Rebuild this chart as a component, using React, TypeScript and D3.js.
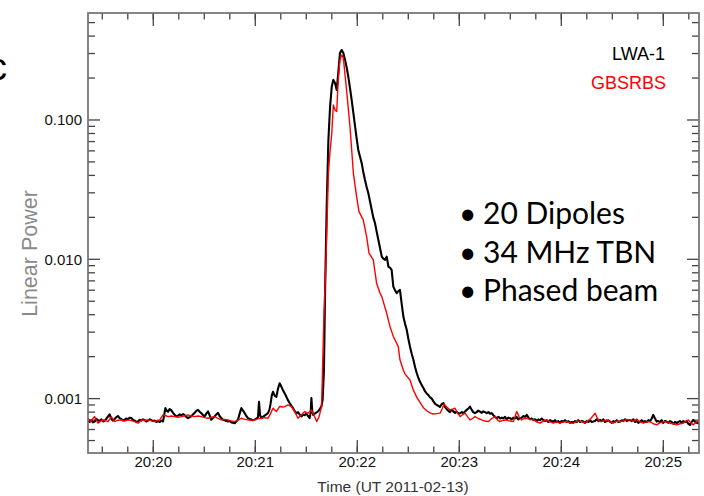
import React from "react";
import * as d3 from "d3";

// Time is seconds after 20:19:00 UT on 2011-02-13; power is linear.
const T0 = Date.UTC(2011, 1, 13, 20, 19, 0);

const lwa1: [number, number][] = [
  [21.6, 0.000703], [22.5, 0.00068], [23.5, 0.0007], [24.5, 0.000675], [25.5, 0.000684], [26.5, 0.000715], [27.5, 0.0007], [28.5, 0.00069], [29.4, 0.00071], [30.5, 0.000685], [31.5, 0.000695], [32.5, 0.00072], [33.4, 0.000745], [34.3, 0.00077], [35.2, 0.00072], [36.2, 0.000695], [37.3, 0.000715], [38.2, 0.000735], [39.2, 0.00075], [40.2, 0.000725], [41.2, 0.000715], [42.2, 0.000695], [43.2, 0.000705], [44.1, 0.00072], [45.1, 0.00071], [46.1, 0.00073], [47.1, 0.000725], [48.0, 0.000705], [49.0, 0.000695], [50.0, 0.00068], [51.0, 0.000685], [52.0, 0.000705], [52.9, 0.000695], [53.9, 0.00071], [54.9, 0.0007], [55.9, 0.000685], [56.9, 0.000695], [57.9, 0.00071], [58.9, 0.0007], [59.8, 0.00069], [60.8, 0.000695], [61.8, 0.00068], [62.8, 0.00069], [63.8, 0.00068], [64.8, 0.000695], [65.7, 0.000685], [66.4, 0.00076], [67.1, 0.000855], [67.9, 0.00082], [68.7, 0.000805], [69.6, 0.00084], [70.6, 0.000825], [71.6, 0.00079], [72.6, 0.000765], [73.5, 0.000745], [74.5, 0.000755], [75.5, 0.00077], [76.5, 0.00076], [77.5, 0.000775], [78.5, 0.00076], [79.4, 0.00074], [80.4, 0.000725], [81.4, 0.000735], [82.3, 0.000745], [83.3, 0.00077], [84.3, 0.00079], [85.3, 0.000815], [86.3, 0.00083], [87.3, 0.000805], [88.3, 0.000785], [89.2, 0.00076], [90.2, 0.000745], [91.2, 0.00078], [92.2, 0.00081], [93.1, 0.00076], [94.1, 0.000705], [95.1, 0.000725], [96.1, 0.000745], [97.1, 0.00077], [98.1, 0.00079], [99.0, 0.00075], [100.0, 0.000725], [101.0, 0.000705], [102.0, 0.0007], [103.0, 0.00069], [104.0, 0.000685], [105.0, 0.00069], [106.0, 0.000675], [106.9, 0.00067], [107.9, 0.000665], [108.8, 0.000685], [109.8, 0.000705], [110.8, 0.00078], [111.8, 0.000855], [112.8, 0.00082], [113.8, 0.000785], [114.7, 0.00075], [115.7, 0.000725], [116.7, 0.000715], [117.6, 0.00071], [118.6, 0.0007], [119.6, 0.000705], [120.6, 0.00072], [121.6, 0.000735], [122.2, 0.00095], [122.8, 0.00076], [123.6, 0.000725], [124.5, 0.00074], [125.5, 0.000755], [126.5, 0.00077], [127.5, 0.00079], [128.3, 0.00083], [129.0, 0.00092], [129.7, 0.00105], [130.4, 0.00112], [131.4, 0.00105], [132.4, 0.00103], [133.3, 0.00117], [134.3, 0.00129], [135.3, 0.00122], [136.3, 0.00115], [137.3, 0.00109], [138.3, 0.00103], [139.2, 0.000975], [140.2, 0.00093], [141.2, 0.00089], [142.2, 0.000855], [143.1, 0.000815], [144.1, 0.000785], [145.1, 0.0008], [146.1, 0.00077], [147.1, 0.000745], [148.0, 0.000765], [149.0, 0.00076], [150.0, 0.000785], [151.0, 0.00075], [152.0, 0.000725], [152.6, 0.0008], [153.0, 0.00101], [153.5, 0.00082], [154.0, 0.000765], [155.0, 0.00078], [156.0, 0.000795], [156.9, 0.00081], [157.9, 0.00084], [158.9, 0.000877], [159.6, 0.00098], [160.4, 0.00161], [161.0, 0.0054], [162.0, 0.0239], [163.0, 0.0719], [164.0, 0.125], [165.0, 0.174], [165.9, 0.194], [166.9, 0.184], [167.9, 0.164], [168.8, 0.217], [169.8, 0.302], [170.8, 0.318], [171.8, 0.302], [172.8, 0.27], [173.7, 0.24], [174.7, 0.205], [175.7, 0.17], [176.7, 0.139], [177.7, 0.112], [178.7, 0.0898], [179.6, 0.074], [180.6, 0.0609], [181.6, 0.0545], [182.6, 0.049], [183.5, 0.0425], [184.5, 0.0372], [185.5, 0.033], [186.5, 0.0298], [187.5, 0.026], [188.5, 0.0226], [189.4, 0.02], [190.4, 0.0182], [191.4, 0.0158], [192.4, 0.01377], [193.4, 0.012], [194.4, 0.01045], [195.3, 0.0101], [196.3, 0.0099], [197.3, 0.01045], [198.3, 0.00887], [199.2, 0.0087], [200.2, 0.00839], [201.2, 0.00637], [202.2, 0.006], [203.2, 0.00571], [204.1, 0.0059], [205.1, 0.00603], [206.1, 0.0048], [207.1, 0.00388], [208.1, 0.00345], [209.1, 0.00311], [210.0, 0.0027], [211.0, 0.00236], [212.0, 0.0021], [213.0, 0.0019], [214.0, 0.00168], [215.0, 0.00152], [216.0, 0.0014], [216.9, 0.00132], [217.9, 0.00125], [218.9, 0.00119], [219.8, 0.00113], [220.8, 0.00109], [221.8, 0.00106], [222.8, 0.00102], [223.8, 0.001], [224.7, 0.00096], [225.7, 0.00092], [226.7, 0.0009], [227.7, 0.00089], [228.6, 0.00087], [229.6, 0.00091], [230.6, 0.00093], [231.6, 0.00087], [232.6, 0.00084], [233.5, 0.00082], [234.5, 0.0008], [235.5, 0.00083], [236.5, 0.00081], [237.5, 0.00079], [238.5, 0.000807], [239.5, 0.00078], [240.5, 0.000786], [241.5, 0.0008], [242.4, 0.000786], [243.4, 0.00081], [244.4, 0.00083], [245.4, 0.00085], [246.3, 0.000876], [247.3, 0.00083], [248.2, 0.0008], [249.2, 0.000786], [250.2, 0.0008], [251.2, 0.00082], [252.2, 0.000807], [253.2, 0.00079], [254.1, 0.00081], [255.1, 0.0008], [256.1, 0.000786], [257.1, 0.0008], [258.1, 0.00078], [259.1, 0.000786], [260.0, 0.00076], [261.0, 0.00074], [262.0, 0.000723], [263.0, 0.00074], [264.0, 0.00072], [265.0, 0.00073], [265.9, 0.000723], [266.9, 0.00074], [267.9, 0.00071], [268.8, 0.00073], [269.8, 0.000723], [270.8, 0.00071], [271.8, 0.00073], [272.8, 0.00072], [273.7, 0.00074], [274.7, 0.00071], [275.7, 0.000723], [276.7, 0.00073], [277.7, 0.00075], [278.7, 0.00074], [279.7, 0.000764], [280.7, 0.00073], [281.6, 0.00071], [282.6, 0.00072], [283.6, 0.000703], [284.6, 0.00071], [285.6, 0.00069], [286.5, 0.00071], [287.5, 0.0007], [288.5, 0.00072], [289.4, 0.000703], [290.4, 0.00069], [291.4, 0.0007], [292.4, 0.00068], [293.4, 0.0007], [294.3, 0.00069], [295.3, 0.000684], [296.3, 0.0007], [297.3, 0.00068], [298.3, 0.00069], [299.2, 0.00067], [300.2, 0.00069], [301.2, 0.000684], [302.2, 0.0007], [303.2, 0.00068], [304.2, 0.00069], [305.1, 0.00067], [306.1, 0.00068], [307.1, 0.000673], [308.1, 0.00069], [309.1, 0.00068], [310.0, 0.0007], [311.0, 0.00068], [312.0, 0.00069], [313.0, 0.000684], [314.0, 0.00067], [315.0, 0.00069], [316.0, 0.00068], [316.9, 0.0007], [317.9, 0.00068], [318.8, 0.000684], [319.8, 0.00069], [320.8, 0.00071], [321.8, 0.00069], [322.8, 0.000703], [323.8, 0.00069], [324.7, 0.00071], [325.7, 0.00068], [326.7, 0.00069], [327.7, 0.0007], [328.7, 0.000684], [329.7, 0.00067], [330.6, 0.00069], [331.6, 0.00068], [332.6, 0.0007], [333.6, 0.00068], [334.5, 0.000684], [335.5, 0.0007], [336.5, 0.00069], [337.5, 0.00071], [338.5, 0.00069], [339.4, 0.0007], [340.4, 0.000703], [341.4, 0.00069], [342.4, 0.00071], [343.4, 0.00068], [344.3, 0.00069], [345.3, 0.00067], [346.3, 0.000684], [347.3, 0.0007], [348.3, 0.00068], [349.2, 0.00069], [350.2, 0.00068], [351.2, 0.0007], [352.2, 0.00069], [353.2, 0.00072], [354.1, 0.000764], [355.1, 0.00072], [356.1, 0.000684], [357.1, 0.00069], [358.0, 0.00068], [359.0, 0.0007], [360.0, 0.00067], [361.0, 0.00069], [362.0, 0.000684], [363.0, 0.00067], [363.9, 0.00069], [364.9, 0.00068], [365.9, 0.00066], [366.9, 0.00068], [367.9, 0.000666], [368.9, 0.00068], [369.8, 0.00069], [370.8, 0.00067], [371.8, 0.00069], [372.8, 0.00068], [373.8, 0.000684], [374.7, 0.00066], [375.7, 0.000648], [376.7, 0.00068], [377.7, 0.000703], [378.7, 0.00068], [379.6, 0.00067], [380.6, 0.000666], [381.0, 0.00068],
];

const gbsrbs: [number, number][] = [
  [21.6, 0.000723], [22.6, 0.0007], [23.6, 0.000684], [24.5, 0.00072], [25.5, 0.000743], [26.5, 0.0007], [27.5, 0.000666], [29.0, 0.00069], [30.4, 0.000703], [32.0, 0.000695], [33.4, 0.000684], [35.3, 0.000743], [37.3, 0.000684], [39.2, 0.0007], [41.2, 0.000703], [43.2, 0.00069], [45.1, 0.000703], [47.1, 0.000695], [49.1, 0.000684], [51.0, 0.000666], [53.0, 0.000703], [55.0, 0.0007], [56.9, 0.000703], [58.9, 0.000695], [60.8, 0.000684], [62.8, 0.0007], [63.8, 0.000703], [65.7, 0.000764], [67.7, 0.00075], [68.7, 0.000743], [70.6, 0.00075], [72.6, 0.000743], [74.5, 0.000735], [76.5, 0.000743], [78.5, 0.00075], [80.4, 0.000764], [82.3, 0.00075], [84.3, 0.000743], [86.3, 0.00075], [88.3, 0.000743], [90.2, 0.00073], [92.2, 0.000723], [94.1, 0.000735], [96.1, 0.000743], [98.1, 0.00072], [100.0, 0.000703], [102.0, 0.00071], [104.0, 0.000703], [106.0, 0.00069], [107.9, 0.000684], [109.8, 0.0007], [111.8, 0.000723], [113.8, 0.00071], [115.7, 0.000703], [117.6, 0.0007], [119.6, 0.000703], [121.6, 0.000715], [123.6, 0.000723], [125.5, 0.00073], [127.5, 0.000723], [129.0, 0.00078], [130.4, 0.000853], [132.4, 0.000807], [134.3, 0.000877], [136.3, 0.00087], [137.3, 0.000877], [139.2, 0.0009], [141.2, 0.000877], [143.2, 0.000807], [145.1, 0.000723], [147.1, 0.000764], [149.1, 0.000807], [151.0, 0.000785], [153.0, 0.00083], [154.9, 0.000743], [156.1, 0.000684], [157.5, 0.00074], [159.0, 0.00088], [160.4, 0.004], [161.5, 0.009], [162.3, 0.02], [163.0, 0.0415], [164.0, 0.06], [165.0, 0.0803], [165.9, 0.128], [166.9, 0.118], [167.9, 0.115], [168.8, 0.194], [169.8, 0.27], [170.8, 0.293], [171.8, 0.278], [173.7, 0.164], [175.7, 0.0898], [177.7, 0.0415], [179.6, 0.0282], [181.0, 0.022], [183.5, 0.0192], [185.5, 0.01456], [186.9, 0.01107], [189.4, 0.0099], [191.4, 0.0067], [193.4, 0.00571], [194.4, 0.0054], [197.3, 0.0041], [199.2, 0.0033], [201.2, 0.00279], [204.1, 0.00236], [205.1, 0.0019], [207.1, 0.0016], [208.1, 0.0015], [211.0, 0.00136], [213.0, 0.00115], [215.0, 0.00102], [216.9, 0.00094], [218.9, 0.00086], [220.8, 0.000818], [222.8, 0.00079], [224.7, 0.000775], [226.7, 0.00078], [228.7, 0.000786], [230.0, 0.00085], [231.0, 0.000915], [232.6, 0.00087], [234.5, 0.00083], [236.0, 0.00084], [237.5, 0.000853], [238.5, 0.000807], [240.5, 0.000743], [242.4, 0.000775], [243.4, 0.000786], [244.9, 0.00074], [246.3, 0.000703], [247.8, 0.00072], [249.2, 0.000743], [251.2, 0.00072], [253.2, 0.000703], [255.1, 0.00069], [257.1, 0.000684], [259.1, 0.00072], [261.0, 0.000743], [262.5, 0.0007], [263.9, 0.000684], [265.9, 0.0007], [267.9, 0.000703], [269.8, 0.00069], [271.8, 0.000684], [273.8, 0.000807], [275.2, 0.00074], [276.7, 0.000703], [278.2, 0.00072], [279.7, 0.000723], [281.6, 0.00071], [283.6, 0.000703], [285.6, 0.00068], [287.5, 0.000666], [289.4, 0.00069], [291.4, 0.000703], [293.4, 0.00068], [295.3, 0.000666], [297.3, 0.00068], [299.3, 0.000666], [301.2, 0.00068], [303.2, 0.000684], [305.1, 0.00067], [307.1, 0.000666], [309.6, 0.00069], [312.0, 0.000684], [313.5, 0.00067], [315.0, 0.000684], [317.4, 0.00072], [319.9, 0.000786], [321.3, 0.00072], [322.8, 0.000684], [324.7, 0.00069], [326.7, 0.000703], [328.7, 0.00068], [330.6, 0.000666], [332.6, 0.00069], [334.5, 0.000684], [336.5, 0.00069], [338.5, 0.00071], [340.4, 0.000703], [342.4, 0.00069], [344.4, 0.000713], [346.3, 0.00068], [348.3, 0.000666], [350.2, 0.00068], [352.2, 0.000684], [354.1, 0.00066], [356.1, 0.000648], [358.0, 0.00067], [360.0, 0.000684], [362.0, 0.00068], [364.0, 0.000666], [366.0, 0.00066], [367.9, 0.000648], [369.8, 0.00066], [371.8, 0.000666], [373.3, 0.00069], [374.7, 0.000703], [376.2, 0.00067], [377.7, 0.000648], [379.5, 0.00068], [381.0, 0.000703],
];

const timeTickLabels = ["20:20", "20:21", "20:22", "20:23", "20:24", "20:25"];
const powerTicks = [0.001, 0.01, 0.1];
const powerTickLabels = ["0.001", "0.010", "0.100"];
const seriesNames = ["LWA-1", "GBSRBS"];
const bulletLines = ["20 Dipoles", "34 MHz TBN", "Phased beam"];
const xDomainSeconds = [21.6, 381];
const yDomain = [0.000407, 0.586];

const toDate = (s: number) => new Date(T0 + s * 1000);

export default function App() {
  const W = 704, H = 496;
  const L = 88, R = 699, T = 13, B = 453;
  const x = d3.scaleUtc().domain(xDomainSeconds.map(toDate)).range([L, R]);
  const y = d3.scaleLog().domain(yDomain).range([B, T]);
  const line = d3.line<[number, number]>()
    .x((d) => x(toDate(d[0])))
    .y((d) => y(d[1]));

  const majorX = timeTickLabels.map((s) => {
    const [h, m] = s.split(":").map(Number);
    return new Date(Date.UTC(2011, 1, 13, h, m, 0));
  });
  const minorX = x.ticks(d3.utcSecond.every(15) as any);
  const minorY: number[] = [];
  [0.0001, 0.001, 0.01, 0.1].forEach((d) => {
    for (let k = 2; k <= 9; k++) {
      const v = k * d;
      if (v >= yDomain[0] && v <= yDomain[1]) minorY.push(v);
    }
  });

  const font = "'Liberation Sans', Arial, Helvetica, sans-serif";
  const tickColor = "#444";
  const axisColor = "#707070";

  return (
    <svg width={W} height={H} style={{ position: "absolute", left: 0, top: 0, background: "#fff" }}>
      <defs>
        <clipPath id="plot">
          <rect x={L} y={T} width={R - L} height={B - T} />
        </clipPath>
      </defs>
      <rect x={0} y={0} width={W} height={H} fill="#fff" />
      <text x={-12} y={80} fontFamily={font} fontSize={38} fill="#000">c</text>

      {/* ticks */}
      <g stroke={tickColor} strokeWidth={1.3}>
        {minorX.map((d, i) => (
          <g key={"mx" + i}>
            <line x1={x(d)} x2={x(d)} y1={B} y2={B - 6.5} />
            <line x1={x(d)} x2={x(d)} y1={T} y2={T + 6.5} />
          </g>
        ))}
        {majorX.map((d, i) => (
          <g key={"MX" + i}>
            <line x1={x(d)} x2={x(d)} y1={B} y2={B - 13} />
            <line x1={x(d)} x2={x(d)} y1={T} y2={T + 13} />
          </g>
        ))}
        {minorY.map((v, i) => (
          <g key={"my" + i}>
            <line x1={L} x2={L + 7} y1={y(v)} y2={y(v)} />
            <line x1={R} x2={R - 7} y1={y(v)} y2={y(v)} />
          </g>
        ))}
        {powerTicks.map((v, i) => (
          <g key={"MY" + i}>
            <line x1={L} x2={L + 12} y1={y(v)} y2={y(v)} />
            <line x1={R} x2={R - 12} y1={y(v)} y2={y(v)} />
          </g>
        ))}
      </g>

      {/* data */}
      <g clipPath="url(#plot)" fill="none" strokeLinejoin="round">
        <path d={line(lwa1) || ""} stroke="#000" strokeWidth={2.1} />
        <path d={line(gbsrbs) || ""} stroke="#ff0000" strokeWidth={1.4} />
      </g>

      {/* frame */}
      <rect x={L} y={T} width={R - L} height={B - T} fill="none" stroke={axisColor} strokeWidth={1.7} />

      {/* tick labels */}
      <g fontFamily={font} fontSize={15} fill="#111">
        {majorX.map((d, i) => (
          <text key={"xl" + i} x={x(d)} y={467} textAnchor="middle">{timeTickLabels[i]}</text>
        ))}
        {powerTicks.map((v, i) => (
          <text key={"yl" + i} x={82} y={y(v) + 5.3} textAnchor="end">{powerTickLabels[i]}</text>
        ))}
      </g>

      <text x={393} y={492} textAnchor="middle" fontFamily={font} fontSize={15.5} fill="#333">Time (UT 2011-02-13)</text>
      <text transform="translate(37,253.5) rotate(-90)" textAnchor="middle" fontFamily={font} fontSize={21.5} fill="#8a8a8a">Linear Power</text>

      {/* legend */}
      <text x={665} y={60} textAnchor="end" fontFamily={font} fontSize={18} fill="#000">{seriesNames[0]}</text>
      <text x={666} y={89} textAnchor="end" fontFamily={font} fontSize={18} fill="#ff0000">{seriesNames[1]}</text>

      {/* bullets */}
      <g fontFamily="Lato, 'Open Sans', sans-serif" fontSize={30} fill="#000">
        {bulletLines.map((s, i) => {
          const by = [223.5, 262.5, 300.5][i];
          return (
            <g key={"b" + i}>
              <text x={459} y={by}>•</text>
              <text x={483} y={by}>{s}</text>
            </g>
          );
        })}
      </g>
    </svg>
  );
}
